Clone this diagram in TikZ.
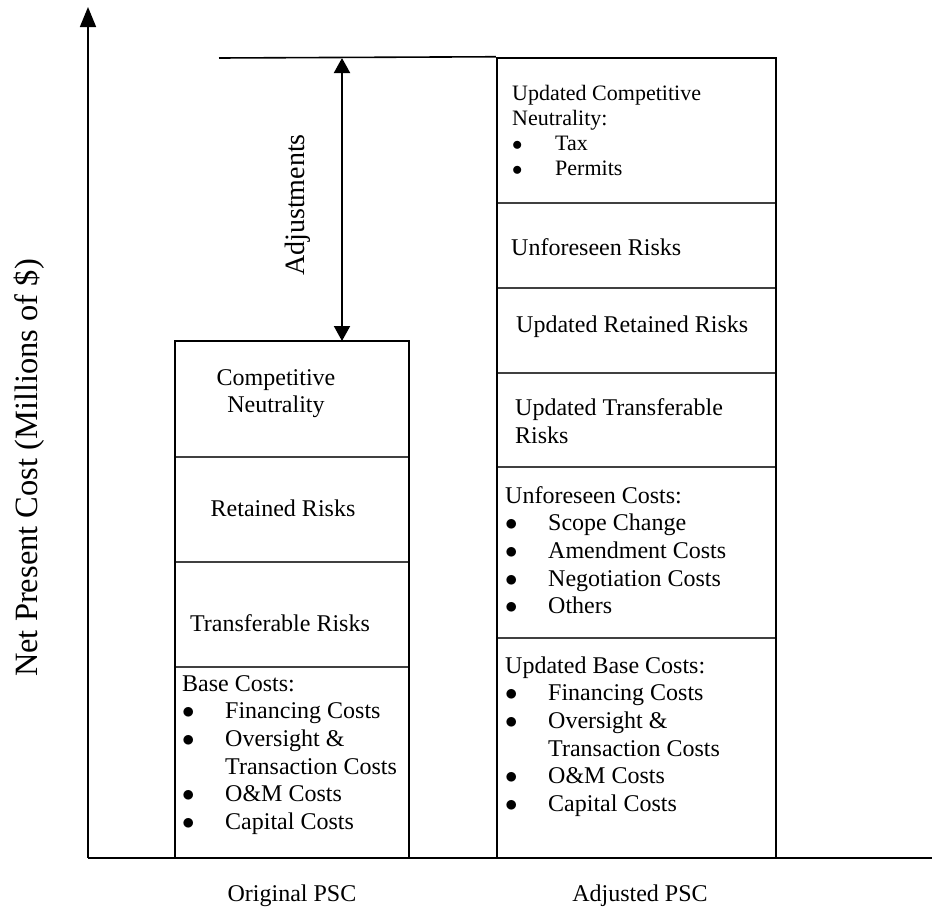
\documentclass[tikz,border=0pt]{standalone}
\usepackage{fontspec}
\setmainfont{Liberation Serif}
\usetikzlibrary{arrows.meta}

\newcommand\bodysize{\fontsize{24}{27.6}\selectfont}
\newcommand\topsize{\fontsize{22}{25}\selectfont}
\newcommand\bul[1]{\makebox[43pt][l]{$\bullet$}#1}
\newcommand\cont[1]{\hspace*{43pt}#1}

\begin{document}
\begin{tikzpicture}[x=1pt,y=-1pt,
  every node/.style={inner sep=0pt, font=\bodysize},
  axis/.style={line width=1.6pt},
  pscbar/.style={draw, line width=2.5pt},
  divline/.style={line width=1.3pt, black!75},
  listblk/.style={anchor=north west, align=left}]
\useasboundingbox (0,0) rectangle (932,913);
\coordinate (origin) at (88,858);
\coordinate (ytip) at (88,7);
\coordinate (xend) at (932,858);
\draw[axis, -{Triangle[width=16pt,length=20pt]}] (origin) -- (ytip);
\draw[axis] (origin) -- (xend);
\foreach \y in {457,562,667}
  \draw[divline] (175,\y) -- (409,\y);
\foreach \y in {203,288,373,467,638}
  \draw[divline] (497,\y) -- (776,\y);
\node[pscbar, minimum width=234pt, minimum height=517pt] (orig) at (292,599.5) {};
\node[pscbar, minimum width=279pt, minimum height=800pt] (adj) at (636.5,458) {};
\coordinate (topl) at (219,58);
\draw[axis] (topl) -- (adj.north west);
\coordinate (adjtop) at (342,58);
\coordinate (adjbot) at (342,341);
\draw[line width=2pt, {Triangle[width=16pt,length=15pt]}-{Triangle[width=16pt,length=15pt]}] (adjtop) -- (adjbot);
\node[rotate=90, font=\fontsize{28}{33}\selectfont] (adjlab) at (298,205) {Adjustments};
\node[rotate=90, font=\fontsize{32.5}{38}\selectfont] (ylab) at (29,468) {Net Present Cost (Millions of \$)};
% original PSC
\node[align=center] (cn) at (276,393.5) {Competitive\\Neutrality};
\node (rr) at (283,508) {Retained Risks};
\node (tr) at (280,623) {Transferable Risks};
\node[listblk] (bc) at (182,671.7) {\strut Base Costs:\\ \bul{Financing Costs}\\ \bul{Oversight \&}\\ \cont{Transaction Costs}\\ \bul{O\&M Costs}\\ \bul{Capital Costs}};
% adjusted PSC
\node[listblk, font=\topsize] (ucn) at (512,82.8) {\strut Updated Competitive\\Neutrality:\\ \bul{Tax}\\ \bul{Permits}};
\node[anchor=west] (ur) at (511,247) {Unforeseen Risks};
\node[anchor=west] (urr) at (516,327) {Updated Retained Risks};
\node[listblk] (utr) at (515,396) {\strut Updated Transferable\\Risks};
\node[listblk] (uc) at (505,483.7) {\strut Unforeseen Costs:\\ \bul{Scope Change}\\ \bul{Amendment Costs}\\ \bul{Negotiation Costs}\\ \bul{Others}};
\node[listblk] (ubc) at (505,653.7) {\strut Updated Base Costs:\\ \bul{Financing Costs}\\ \bul{Oversight \&}\\ \cont{Transaction Costs}\\ \bul{O\&M Costs}\\ \bul{Capital Costs}};
\node (olab) at (292,896) {Original PSC};
\node (alab) at (640,896) {Adjusted PSC};
\end{tikzpicture}
\end{document}
